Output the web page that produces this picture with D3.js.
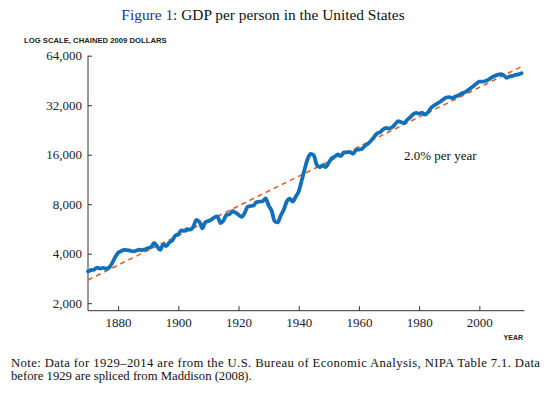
<!DOCTYPE html>
<html>
<head>
<meta charset="utf-8">
<script src="https://cdn.jsdelivr.net/npm/d3@7"></script>
<style>
  body { margin: 0; background: #fff; }
  svg { display: block; }
  .tick text { font-family: "Liberation Serif", serif; font-size: 13px; fill: #222; }
  .domain, .tick line { stroke: #333; }
</style>
</head>
<body>
<div id="chart"></div>
<script>
// GDP per person, chained 2009 dollars, one value per year starting 1870
const firstYear = 1870;
const gdpValues = [
  3120, 3180, 3200, 3290, 3250, 3280, 3240, 3290, 3500, 3800, // 1870s
  4050, 4150, 4220, 4200, 4170, 4130, 4180, 4230, 4200, 4260, // 1880s
  4330, 4400, 4650, 4420, 4220, 4560, 4450, 4680, 4820, 5150, // 1890s
  5250, 5550, 5500, 5650, 5600, 5850, 6420, 6250, 5700, 6220, // 1900s
  6320, 6450, 6650, 6750, 6150, 6350, 6900, 6950, 7250, 7100, // 1910s
  6900, 6700, 7050, 7700, 7800, 7850, 8250, 8280, 8350, 8675, // 1920s
  7853, 7297, 6316, 6197, 6821, 7376, 8279, 8654, 8303, 8889, // 1930s
  9584, 11172, 13134, 15170, 16181, 15841, 13868, 13459, 13779, 13464, // 1940s
  14340, 15236, 15585, 16051, 15686, 16510, 16562, 16607, 16211, 17047, // 1950s
  17204, 17355, 18140, 18660, 19458, 20467, 21561, 21918, 22765, 23249, // 1960s
  23023, 23484, 24461, 25598, 25227, 24932, 26034, 26962, 28155, 28726, // 1970s
  28391, 28835, 28016, 29050, 30895, 31920, 32738, 33564, 34661, 35601, // 1980s
  35877, 35369, 36127, 36633, 37649, 38208, 39202, 40480, 41776, 43247, // 1990s
  44506, 44499, 44885, 45747, 47041, 48170, 48974, 49381, 48768, 46997, // 2000s
  47798, 48205, 48915, 49298, 50053                                    // 2010s
];

// 2% trend line end points
const trendYears = [1870, 2014];
const trendValues = [2770, 54900];

const yTicks = [2000, 4000, 8000, 16000, 32000, 64000];
const xTicks = [1880, 1900, 1920, 1940, 1960, 1980, 2000];

const data = gdpValues.map((v, i) => ({ year: firstYear + i, value: v }));
const trend = trendYears.map((y, i) => ({ year: y, value: trendValues[i] }));

const W = 552, H = 397;
const plot = { left: 88, right: 524.5, top: 55.7, bottom: 310.7 };

const svg = d3.select('#chart').append('svg')
  .attr('width', W)
  .attr('height', H);

const x = d3.scaleLinear()
  .domain([1870, 2015])
  .range([plot.left, plot.right]);

const y = d3.scaleLog()
  .base(2)
  .domain([2000, 64000])
  .range([303.2, plot.top]);

// Title
const title = svg.append('text')
  .attr('x', 263)
  .attr('y', 20)
  .attr('text-anchor', 'middle')
  .style('font-family', '"Liberation Serif", serif')
  .style('font-size', '15.4px')
  .style('fill', '#111');
title.append('tspan').style('fill', '#2e2e8f').text('Figure 1');
title.append('tspan').text(': GDP per person in the United States');

svg.append('text')
  .attr('x', 24)
  .attr('y', 43)
  .style('font-family', '"Liberation Sans", Arial, sans-serif')
  .style('font-size', '7.7px')
  .style('font-weight', 'bold')
  .style('fill', '#222')
  .text('LOG SCALE, CHAINED 2009 DOLLARS');

// Y axis
const yAxis = svg.append('g')
  .attr('transform', `translate(${plot.left},0)`)
  .call(d3.axisRight(y)
    .tickValues(yTicks)
    .tickSize(4)
    .tickFormat(d3.format(',')));
yAxis.select('.domain').remove();
yAxis.selectAll('.tick text')
  .attr('x', -6)
  .attr('text-anchor', 'end');

svg.append('line')
  .attr('x1', plot.left).attr('x2', plot.left)
  .attr('y1', plot.top).attr('y2', plot.bottom)
  .attr('stroke', '#333');

// X axis
const xAxis = svg.append('g')
  .attr('transform', `translate(0,${plot.bottom})`)
  .call(d3.axisTop(x)
    .tickValues(xTicks)
    .tickSize(4.5)
    .tickFormat(d3.format('d')));
xAxis.select('.domain').remove();
xAxis.selectAll('.tick text')
  .attr('y', 16)
  .attr('dy', 0);

svg.append('line')
  .attr('x1', plot.left).attr('x2', plot.right)
  .attr('y1', plot.bottom).attr('y2', plot.bottom)
  .attr('stroke', '#333');

svg.append('text')
  .attr('x', 523)
  .attr('y', 340)
  .attr('text-anchor', 'end')
  .style('font-family', '"Liberation Sans", Arial, sans-serif')
  .style('font-size', '7px')
  .style('font-weight', 'bold')
  .style('fill', '#222')
  .text('YEAR');

// Trend line
const line = d3.line()
  .x(d => x(d.year))
  .y(d => y(d.value));

svg.append('path')
  .datum(trend)
  .attr('d', line)
  .attr('fill', 'none')
  .attr('stroke', '#d9622b')
  .attr('stroke-width', 1.6)
  .attr('stroke-dasharray', '5,4');

// GDP line
svg.append('path')
  .datum(data)
  .attr('d', line.curve(d3.curveMonotoneX))
  .attr('fill', 'none')
  .attr('stroke', '#1170b8')
  .attr('stroke-width', 3.8)
  .attr('stroke-linejoin', 'round')
  .attr('stroke-linecap', 'round');

svg.append('text')
  .attr('x', 404)
  .attr('y', 160)
  .style('font-family', '"Liberation Serif", serif')
  .style('font-size', '13px')
  .style('fill', '#111')
  .text('2.0% per year');

// Note
const note = svg.append('g')
  .style('font-family', '"Liberation Serif", serif')
  .style('font-size', '12.7px')
  .style('fill', '#111');
note.append('text')
  .attr('x', 11)
  .attr('y', 367)
  .attr('textLength', 529)
  .attr('lengthAdjust', 'spacing')
  .text('Note: Data for 1929\u20132014 are from the U.S. Bureau of Economic Analysis, NIPA Table 7.1.  Data');
note.append('text')
  .attr('x', 11)
  .attr('y', 380)
  .text('before 1929 are spliced from Maddison (2008).');
</script>
</body>
</html>
